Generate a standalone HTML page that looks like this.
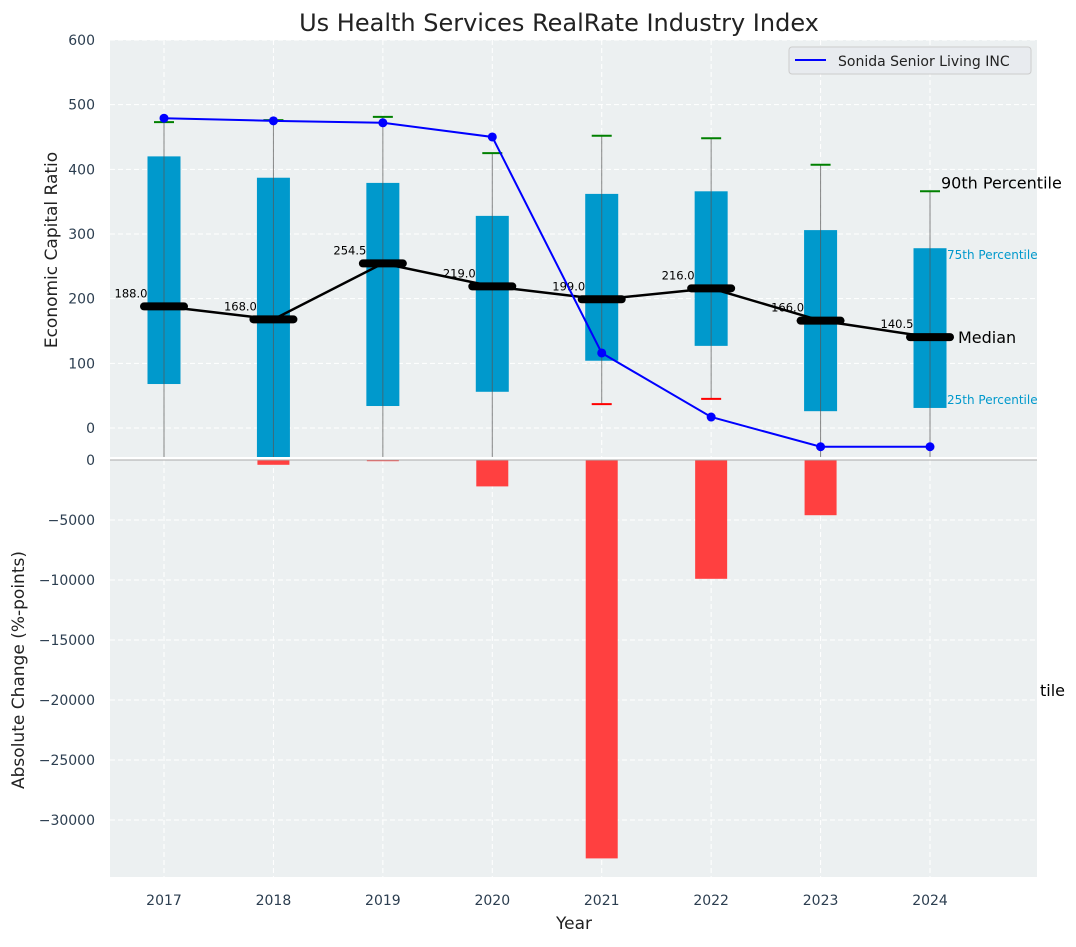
<!DOCTYPE html>
<html><head><meta charset="utf-8"><style>
body{margin:0;background:#fff}
svg{font-family:"DejaVu Sans","Liberation Sans",sans-serif}
</style></head><body>
<svg id="c" width="1076" height="942"></svg>
<script>
const years=["2017","2018","2019","2020","2021","2022","2023","2024"];
const p10=[-100,-100,-100,-100,37,45,-100,-100];
const p25=[68,-46,34,56,104,127,26,31];
const p50=[188,168,254.5,219,199,216,166,140.5];
const p75=[420,387,379,328,362,366,306,278];
const p90=[473,476,481,425,452,448,407,366];
const company=[479,475,472,450,116,17,-29,-29];
const absChange=[0,-400,-100,-2200,-33200,-9900,-4600,0];
const topTicks=[0,100,200,300,400,500,600];
const botTicks=[0,-5000,-10000,-15000,-20000,-25000,-30000];
const NS="http://www.w3.org/2000/svg";
const svg=document.getElementById('c');
function el(t,a,p){const e=document.createElementNS(NS,t);for(const k in a)e.setAttribute(k,a[k]);(p||svg).appendChild(e);return e;}
const L=110,R=1037;
const x=i=>164+i*109.43;
const yT=v=>428-v*0.6467;
const yB=v=>460-v*0.012;
let bgT=el('rect',{x:L,y:40,width:R-L,height:417,fill:'#ecf0f1'});

let bgB=el('rect',{x:L,y:460,width:R-L,height:417,fill:'#ecf0f1'});

const clip=el('clipPath',{id:'ct'});
el('rect',{x:L,y:40,width:R-L,height:417},clip);
years.forEach((y,i)=>{
 el('line',{x1:x(i),x2:x(i),y1:40,y2:457,stroke:'#fff','stroke-dasharray':'5,3','stroke-width':1});
 el('line',{x1:x(i),x2:x(i),y1:460,y2:877,stroke:'#fff','stroke-dasharray':'5,3','stroke-width':1});
 const t=el('text',{x:x(i),y:905,'text-anchor':'middle','font-size':14,fill:'#2c3e50'});t.textContent=y;
 
});
topTicks.forEach(v=>{
 el('line',{x1:L,x2:R,y1:yT(v),y2:yT(v),stroke:'#fff','stroke-dasharray':'5,3'});
 const t=el('text',{x:95,y:yT(v)+5,'text-anchor':'end','font-size':14,fill:'#2c3e50'});t.textContent=v;
 
});
botTicks.forEach(v=>{
 el('line',{x1:L,x2:R,y1:yB(v),y2:yB(v),stroke:'#fff','stroke-dasharray':'5,3'});
 const t=el('text',{x:95,y:yB(v)+5,'text-anchor':'end','font-size':14,fill:'#2c3e50'});t.textContent=v===0?'0':'\u2212'+Math.abs(v);
 
});
const g=el('g',{'clip-path':'url(#ct)'});
years.forEach((y,i)=>{
 const xc=x(i);
 const b=el('rect',{x:xc-16.5,y:yT(p75[i]),width:33,height:yT(p25[i])-yT(p75[i]),fill:'#0099cc'},g);
 
 const w=el('line',{x1:xc,x2:xc,y1:yT(p90[i]),y2:yT(p10[i]),stroke:'#555','stroke-opacity':0.7,'stroke-width':1},g);
 
 const c9=el('line',{x1:xc-10,x2:xc+10,y1:yT(p90[i]),y2:yT(p90[i]),stroke:'green','stroke-width':2},g);
 
 const c1=el('line',{x1:xc-10,x2:xc+10,y1:yT(p10[i]),y2:yT(p10[i]),stroke:'red','stroke-width':2},g);
 
});
const mp=el('polyline',{points:p50.map((v,i)=>x(i)+','+yT(v)).join(' '),fill:'none',stroke:'#000','stroke-width':2.5});

years.forEach((y,i)=>{
 const m=el('line',{x1:x(i)-20,x2:x(i)+20,y1:yT(p50[i]),y2:yT(p50[i]),stroke:'#000','stroke-width':8,'stroke-linecap':'round'});
 
 const t=el('text',{x:x(i)-33,y:yT(p50[i])-9,'text-anchor':'middle','font-size':11.5,fill:'#000'});t.textContent=p50[i].toFixed(1);
 
});
const cl=el('polyline',{points:company.map((v,i)=>x(i)+','+yT(v)).join(' '),fill:'none',stroke:'#0000ff','stroke-width':2});

company.forEach((v,i)=>{const d=el('circle',{cx:x(i),cy:yT(v),r:4.5,fill:'#0000ff'});
 });
absChange.forEach((v,i)=>{
 const b=el('rect',{x:x(i)-16,y:yB(0),width:32,height:Math.max(0,yB(v)-yB(0)),fill:'#ff4040'});
 
});
el('line',{x1:L,x2:R,y1:460,y2:460,stroke:'#aaa','stroke-width':1});
const last=7;
[["90th Percentile",941,yT(p90[last])-3,16,'#000'],["75th Percentile",947,yT(p75[last])+11,12,'#0099cc'],["Median",958,yT(p50[last])+6,16,'#000'],["25th Percentile",947,yT(p25[last])-4,12,'#0099cc'],["tile",1040,696,16,'#000']].forEach(a=>{
 const t=el('text',{x:a[1],y:a[2],'font-size':a[3],fill:a[4]});t.textContent=a[0];
 
});
const lg=el('g',{});
el('rect',{x:789,y:47,width:242,height:27,rx:3,fill:'#e8ebef',stroke:'#ccc'},lg);
el('line',{x1:795,x2:826,y1:60,y2:60,stroke:'#0000ff','stroke-width':2},lg);
const lt=el('text',{x:838,y:66,'font-size':14,fill:'#222'},lg);lt.textContent='Sonida Senior Living INC';
let t=el('text',{x:559,y:31,'text-anchor':'middle','font-size':24,fill:'#222'});t.textContent='Us Health Services RealRate Industry Index';

t=el('text',{x:574,y:929,'text-anchor':'middle','font-size':17,fill:'#222'});t.textContent='Year';

t=el('text',{x:57,y:250,'text-anchor':'middle','font-size':17,fill:'#222',transform:'rotate(-90 57 250)'});t.textContent='Economic Capital Ratio';

t=el('text',{x:24,y:670,'text-anchor':'middle','font-size':17,fill:'#222',transform:'rotate(-90 24 670)'});t.textContent='Absolute Change (%-points)';

</script>
</body></html>
